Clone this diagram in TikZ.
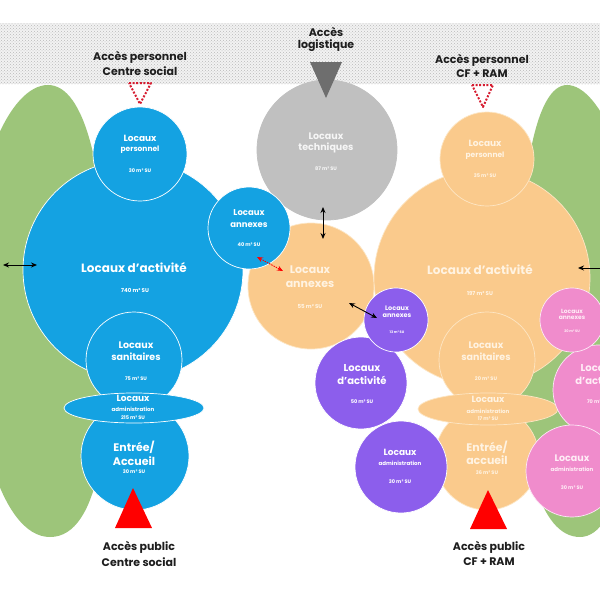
\documentclass[tikz,border=0pt]{standalone}
\usepackage{fontspec}
\setmainfont{Poppins}
\usetikzlibrary{arrows.meta,patterns,shapes.geometric}
\definecolor{cblue}{RGB}{20,162,226}
\definecolor{corange}{RGB}{250,202,140}
\definecolor{cocream}{RGB}{253,230,196}
\definecolor{cotext}{RGB}{255,243,226}
\definecolor{cgrey}{RGB}{192,192,192}
\definecolor{cgtext}{RGB}{246,246,246}
\definecolor{cpurple}{RGB}{140,94,236}
\definecolor{cpink}{RGB}{240,140,204}
\definecolor{cptext}{RGB}{255,236,246}
\definecolor{cgreen}{RGB}{157,197,122}
\definecolor{ctri}{RGB}{110,110,110}
\definecolor{cred}{RGB}{255,0,0}
\definecolor{cdot}{RGB}{214,28,48}
\definecolor{ctxt}{RGB}{30,30,30}
\tikzset{
  bub/.style={circle, inner sep=0pt, line width=0.7pt},
  blueb/.style={bub, fill=cblue, draw=white},
  orangeb/.style={bub, fill=corange, draw=cocream},
  greyb/.style={bub, fill=cgrey, draw=cgrey},
  purpleb/.style={bub, fill=cpurple, draw=white},
  pinkb/.style={bub, fill=cpink, draw=white!80!cpink},
  ellb/.style={ellipse, inner sep=0pt, line width=0.7pt},
  lb/.style={inner sep=0pt, align=center},
  dbl/.style={{Stealth[length=6pt,width=5pt]}-{Stealth[length=6pt,width=5pt]}, line width=0.9pt, black},
  dblred/.style={{Stealth[length=6pt,width=5pt]}-{Stealth[length=6pt,width=5pt]}, line width=0.9pt, cred, dash pattern=on 1.5pt off 1pt},
  sgl/.style={{Stealth[length=6pt,width=5pt]}-, line width=0.9pt, black},
  dottri/.style={draw=cdot, line width=2pt, dash pattern=on 2pt off 1.6pt, line join=round},
  soltri/.style={fill=cred, draw=none},
}
\newcommand\bubl[5]{\node[#1, minimum size={2*#5pt}] (#2) at (#3,#4) {};}
\newcommand\lbl[6]{\node[lb,text=#1,font={\fontsize{#5}{#5}\selectfont\bfseries}] (#2) at (#3,#4) {#6};}
\begin{document}
\begin{tikzpicture}[x=1pt,y=-1pt]
\useasboundingbox (0,0) rectangle (600,600);
\clip (0,0) rectangle (600,600);
\fill[white] (0,0) rectangle (600,600);
% hatched band
\fill[gray!10] (0,23) rectangle (600,84);
\fill[pattern=crosshatch dots, pattern color=gray!55] (0,23) rectangle (600,84);
% green blobs
\fill[cgreen] (48,85) .. controls (85,85) and (105,170) .. (108,300)
  .. controls (112,430) and (100,537) .. (50,537)
  .. controls (0,537) and (-30,420) .. (-30,300)
  .. controls (-30,170) and (10,85) .. (48,85) -- cycle;
\fill[cgreen] (567,85) .. controls (600,85) and (640,170) .. (640,300)
  .. controls (640,430) and (620,537) .. (580,537)
  .. controls (540,537) and (518,460) .. (518,330)
  .. controls (518,180) and (535,85) .. (567,85) -- cycle;
% grey
\bubl{greyb}{gtech}{327}{150}{70}
% orange annexes
\bubl{orangeb}{oann}{311}{286}{63}
% blue group
\bubl{blueb}{bact}{133}{270}{110}
\bubl{blueb}{bpers}{140}{154}{47}
\bubl{blueb}{bsan}{134}{360}{48}
\bubl{blueb}{bent}{135}{456}{54}
\node[ellb, fill=cblue, draw=white, minimum width=140pt, minimum height=30pt] (badm) at (134,408) {};
\bubl{blueb}{bann}{249}{228}{41}
% orange group
\bubl{orangeb}{oact}{482}{278}{108}
\bubl{orangeb}{opers}{487}{159}{47}
\bubl{orangeb}{osan}{487}{360}{48}
\bubl{orangeb}{oent}{487}{458}{52}
\node[ellb, fill=corange, draw=cocream, minimum width=140pt, minimum height=32pt] (oadm) at (488,409) {};
% purple group
\bubl{purpleb}{pact}{361}{383}{46}
\bubl{purpleb}{pann}{396}{320}{32}
\bubl{purpleb}{padm}{401}{467}{46}
% pink group
\bubl{pinkb}{kact}{598}{390}{45}
\bubl{pinkb}{kann}{572}{320}{32}
\bubl{pinkb}{kadm}{572}{471}{46}
% triangles
\draw[dottri] (129,83) -- (151,83) -- (140,104) -- cycle;
\draw[dottri] (472,85) -- (493,85) -- (483,107) -- cycle;
\fill[ctri] (310,62) -- (342,62) -- (326,98) -- cycle;
\fill[cred] (133,488) -- (152,528) -- (115,528) -- cycle;
\fill[cred] (488,490) -- (507,529) -- (470,529) -- cycle;
% access labels
\lbl{ctxt}{tps1}{140}{57}{11}{Accès personnel}
\lbl{ctxt}{tps2}{140}{71}{11}{Centre social}
\lbl{ctxt}{tlg1}{326}{32}{11}{Accès}
\lbl{ctxt}{tlg2}{326}{46}{11}{logistique}
\lbl{ctxt}{tpr1}{482}{60}{11}{Accès personnel}
\lbl{ctxt}{tpr2}{482}{74}{11}{CF + RAM}
\lbl{ctxt}{tpl1}{139}{547}{11}{Accès public}
\lbl{ctxt}{tpl2}{139}{562}{11}{Centre social}
\lbl{ctxt}{tpk1}{489}{547}{11}{Accès public}
\lbl{ctxt}{tpk2}{489}{562}{11}{CF + RAM}
% blue labels
\lbl{white}{b1}{140}{138}{9}{Locaux}
\lbl{white}{b2}{140}{150}{7.5}{personnel}
\lbl{white}{b3}{140}{171}{5}{30 m² SU}
\lbl{white}{b4}{134}{268}{12}{Locaux d’activité}
\lbl{white}{b5}{135}{290}{5.5}{740 m² SU}
\lbl{white}{b6}{249}{213}{8.5}{Locaux}
\lbl{white}{b7}{249}{225}{8.5}{annexes}
\lbl{white}{b8}{249}{245}{5}{40 m² SU}
\lbl{white}{b9}{136}{345}{9.5}{Locaux}
\lbl{white}{b10}{136}{357}{9.5}{sanitaires}
\lbl{white}{b11}{136}{379}{5}{75 m² SU}
\lbl{white}{b12}{133}{398}{9}{Locaux}
\lbl{white}{b13}{133}{409}{5.5}{administration}
\lbl{white}{b14}{133}{418}{5}{215 m² SU}
\lbl{white}{b15}{134}{447}{11}{Entrée/}
\lbl{white}{b16}{134}{461}{11}{Accueil}
\lbl{white}{b17}{134}{472}{5}{30 m² SU}
% grey labels
\lbl{cgtext}{g1}{326}{136}{9.5}{Locaux}
\lbl{cgtext}{g2}{326}{148}{9.5}{techniques}
\lbl{cgtext}{g3}{326}{169}{5}{87 m² SU}
% orange labels
\lbl{cotext}{o1}{310}{270}{11}{Locaux}
\lbl{cotext}{o2}{310}{284}{11}{annexes}
\lbl{cotext}{o3}{310}{307}{5.5}{55 m² SU}
\lbl{cotext}{o4}{485}{143}{9}{Locaux}
\lbl{cotext}{o5}{485}{156}{7.5}{personnel}
\lbl{cotext}{o6}{485}{176}{5}{35 m² SU}
\lbl{cotext}{o7}{480}{270}{12}{Locaux d’activité}
\lbl{cotext}{o8}{480}{293}{5.5}{197 m² SU}
\lbl{cotext}{o9}{486}{345}{9.5}{Locaux}
\lbl{cotext}{o10}{486}{357}{9.5}{sanitaires}
\lbl{cotext}{o11}{486}{379}{5}{20 m² SU}
\lbl{cotext}{o12}{488}{399}{9}{Locaux}
\lbl{cotext}{o13}{488}{411}{5.5}{administration}
\lbl{cotext}{o14}{488}{419}{5}{17 m² SU}
\lbl{cotext}{o15}{487}{447}{11}{Entrée/}
\lbl{cotext}{o16}{487}{460}{11}{accueil}
\lbl{cotext}{o17}{487}{473}{5}{36 m² SU}
% purple labels
\lbl{white}{p1}{397}{308}{6.5}{Locaux}
\lbl{white}{p2}{397}{316}{6.5}{annexes}
\lbl{white}{p3}{397}{332}{3.5}{13 m² SU}
\lbl{white}{p4}{362}{368}{10}{Locaux}
\lbl{white}{p5}{362}{380}{10}{d’activité}
\lbl{white}{p6}{362}{402}{5}{50 m² SU}
\lbl{white}{p7}{400}{452}{9}{Locaux}
\lbl{white}{p8}{400}{463}{5.5}{administration}
\lbl{white}{p9}{400}{482}{5}{30 m² SU}
% pink labels
\lbl{cptext}{k1}{572}{311}{6}{Locaux}
\lbl{cptext}{k2}{572}{318}{6}{annexes}
\lbl{cptext}{k3}{572}{331}{3.5}{20 m² SU}
\lbl{cptext}{k4}{599}{368}{10}{Locaux}
\lbl{cptext}{k5}{600}{380}{10}{d’activité}
\lbl{cptext}{k6}{598}{402}{5}{70 m² SU}
\lbl{cptext}{k7}{572}{458}{9.5}{Locaux}
\lbl{cptext}{k8}{572}{469}{5.5}{administration}
\lbl{cptext}{k9}{572}{488}{5}{30 m² SU}
% arrows
\coordinate (al1) at (3,265);
\coordinate (al2) at (37,265);
\draw[dbl] (al1) -- (al2);
\coordinate (ar1) at (257,257);
\coordinate (ar2) at (283,271);
\draw[dblred] (ar1) -- (ar2);
\coordinate (av1) at (323,207);
\coordinate (av2) at (323,239);
\draw[dbl] (av1) -- (av2);
\coordinate (ap1) at (349,303);
\coordinate (ap2) at (377,318);
\draw[dbl] (ap1) -- (ap2);
\coordinate (ak1) at (578,268);
\coordinate (ak2) at (601,268);
\draw[sgl] (ak1) -- (ak2);
\end{tikzpicture}
\end{document}
